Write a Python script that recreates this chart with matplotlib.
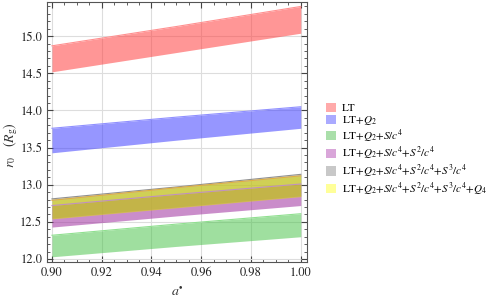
import matplotlib
matplotlib.use("Agg")
import matplotlib.pyplot as plt
from matplotlib.patches import Patch
from matplotlib.ticker import MultipleLocator

plt.rcParams['font.family'] = ['STIXGeneral', 'DejaVu Serif']
plt.rcParams['mathtext.fontset'] = 'stix'

# spin values
a_star = [0.90, 0.95, 1.00]

# band limits r0 (in R_g)
lt_lo = [14.52, 14.78, 15.04]
lt_hi = [14.87, 15.13, 15.40]
q2_lo = [13.43, 13.60, 13.76]
q2_hi = [13.76, 13.91, 14.05]
s1_lo = [12.03, 12.17, 12.30]
s1_hi = [12.32, 12.47, 12.61]
s2_lo = [12.43, 12.58, 12.72]
s2_hi = [12.72, 12.87, 13.01]
s3_lo = [12.55, 12.70, 12.85]
s3_hi = [12.81, 12.97, 13.14]
q4_lo = [12.54, 12.69, 12.84]
q4_hi = [12.79, 12.96, 13.12]

labels = ['LT', r'LT+$Q_2$', r'LT+$Q_2$+$S/c^4$', r'LT+$Q_2$+$S/c^4$+$S^2/c^4$',
          r'LT+$Q_2$+$S/c^4$+$S^2/c^4$+$S^3/c^4$',
          r'LT+$Q_2$+$S/c^4$+$S^2/c^4$+$S^3/c^4$+$Q_4$']
band_colors = ['#ff4040', '#4040ff', '#40c040', '#a030a0', '#707070', '#e0e000']
band_alpha = [0.55, 0.55, 0.5, 0.55, 0.45, 0.55]
legend_colors = ['#ffaaaa', '#aaaaff', '#aadfaa', '#d9a6d9', '#c8c8c8', '#ffff99']
edge_colors = ['#ff9090', '#9090ff', '#90e090', '#c090c0', '#909090', '#e0b040']

bands = [(lt_lo, lt_hi), (q2_lo, q2_hi), (s1_lo, s1_hi),
         (s2_lo, s2_hi), (s3_lo, s3_hi), (q4_lo, q4_hi)]

fig = plt.figure(figsize=(4.91, 3.01), dpi=100)
ax = fig.add_axes([47 / 491, 1 - 262 / 301, 260 / 491, 260 / 301])

for (lo, hi), c, al, ec in zip(bands, band_colors, band_alpha, edge_colors):
    ax.fill_between(a_star, lo, hi, color=c, alpha=al, lw=0)
    ax.plot(a_star, hi, color=ec, lw=0.8)

ax.set_xlim(0.898, 1.0025)
ax.set_ylim(11.96, 15.46)
ax.xaxis.set_major_locator(MultipleLocator(0.02))
ax.xaxis.set_minor_locator(MultipleLocator(0.005))
ax.yaxis.set_major_locator(MultipleLocator(0.5))
ax.yaxis.set_minor_locator(MultipleLocator(0.1))
ax.xaxis.set_major_formatter(lambda v, p: f'{v:.2f}')
ax.yaxis.set_major_formatter(lambda v, p: f'{v:.1f}')
ax.tick_params(which='both', direction='in', top=True, right=True,
               labelsize=9, colors='#444444', labelcolor='#222222')
ax.tick_params(which='major', length=4)
ax.tick_params(which='minor', length=2)
ax.grid(True, which='major', color='#dddddd', lw=0.8)
ax.set_axisbelow(True)
for s in ax.spines.values():
    s.set_color('#555555')

ax.set_xlabel(r'$a^{\bullet}$', fontsize=10, color='#333333', labelpad=4)
ax.set_ylabel(r'$r_0$   $(R_{\rm g})$', fontsize=10, color='#333333')
ax.yaxis.set_label_coords(-0.105, 0.45)

handles = [Patch(facecolor=c, edgecolor='none') for c in legend_colors]
fig.legend(handles, labels, loc='upper left', bbox_to_anchor=(326 / 491, 1 - 103 / 301),
           frameon=False, fontsize=8.0, handlelength=0.9, handleheight=0.9,
           handletextpad=0.55, labelspacing=0.05, borderpad=0, borderaxespad=0)

fig.savefig('out.png', dpi=100)
